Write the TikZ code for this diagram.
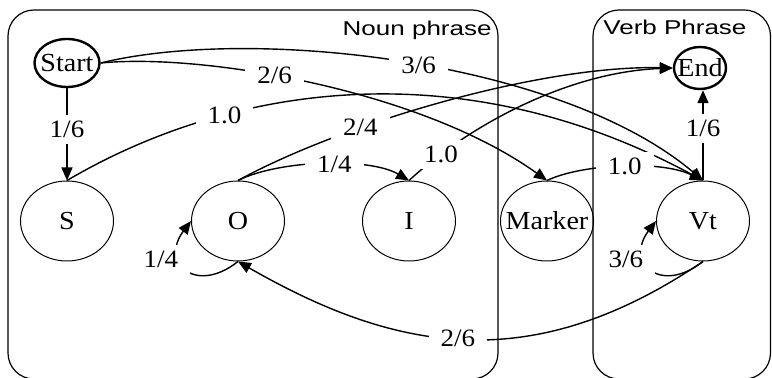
\documentclass[tikz,border=0pt]{standalone}
\usepackage{fontspec}
\setmainfont{Liberation Serif}[FakeStretch=1.08]
\newfontfamily\clusterfont[FakeStretch=1.3]{Liberation Sans}
\usetikzlibrary{arrows.meta,shapes.geometric}

\begin{document}
\begin{tikzpicture}[
  x=0.5pt, y=-0.5pt,
  state/.style={ellipse, draw, line width=0.5pt, minimum width=46.5pt,
               minimum height=40pt, inner sep=-5pt, font=\fontsize{13}{15}\selectfont},
  terminal/.style={state, line width=1.2pt},
  arrow/.style={-{Triangle[length=6.5pt,width=5.5pt]}, line width=0.7pt},
  wlabel/.style={fill=white, inner xsep=6pt, inner ysep=3pt, font=\fontsize{12.5}{15}\selectfont},
  cluster/.style={draw, line width=0.6pt, rounded corners=13pt},
  clustertitle/.style={inner sep=0pt, font=\clusterfont\fontsize{10}{12}\selectfont}
]
\useasboundingbox (0,0) rectangle (772,378);
% clusters
\draw[cluster] (8,10) rectangle (498,379);
\draw[cluster] (593,10) rectangle (770.5,379);
\node[clustertitle, anchor=base east] (nptitle) at (492,36) {Noun phrase};
\node[clustertitle, anchor=base west] (vptitle) at (603,35) {Verb Phrase};
% states
\node[terminal, minimum width=32.5pt, minimum height=24pt] (start) at (67,63) {Start};
\node[terminal, minimum width=26pt, minimum height=21pt] (final) at (700,68) {End};
\node[state] (s) at (67,221) {S};
\node[state] (o) at (238,221) {O};
\node[state] (i) at (409,221) {I};
\node[state] (marker) at (547,221) {Marker};
\node[state] (vt) at (703,221) {Vt};
% transitions
\draw[arrow] (start) -- (s) node[wlabel, pos=0.45] {1/6};
\draw[arrow] (start.east) .. controls +(151,-37) and +(-143,-121) .. (vt.north)
  node[wlabel, pos=0.52] {3/6};
\draw[arrow] (start.east) .. controls +(101,-10) and +(-127,-91) .. (marker.north)
  node[wlabel, pos=0.42] {2/6};
\draw[arrow] (s.north) .. controls +(163,-96) and +(-243,-131) .. (vt.north)
  node[wlabel, pos=0.29] {1.0};
\draw[arrow] (o.north) .. controls +(102,-56) and +(-134,-3) .. (final.west)
  node[wlabel, pos=0.32] {2/4};
\draw[arrow] (o.north) .. controls +(42,-21) and +(-39,-23) .. (i.north)
  node[wlabel, pos=0.55] {1/4};
\draw[arrow] (i.north) .. controls +(61,-56) and +(-104,4) .. (final.west)
  node[wlabel, pos=0.16] {1.0};
\draw[arrow] (marker.north) .. controls +(33,-16) and +(-43,-21) .. (vt.north)
  node[wlabel, pos=0.52] {1.0};
\draw[arrow] (vt.north) -- (vt.north |- final.south) node[wlabel, pos=0.58] {1/6};
\draw[arrow] (vt.south) .. controls +(-170,115) and +(160,92) .. (o.south)
  node[wlabel, pos=0.52] {2/6};
% self loops
\draw[arrow] (o.south) .. controls +(-43,34) and +(-31,41) .. (o.west)
  node[wlabel, pos=0.5, xshift=-13pt, yshift=5pt] {1/4};
\draw[arrow] (vt.south) .. controls +(-43,34) and +(-31,41) .. (vt.west)
  node[wlabel, pos=0.5, xshift=-13pt, yshift=5pt] {3/6};
\end{tikzpicture}
\end{document}
